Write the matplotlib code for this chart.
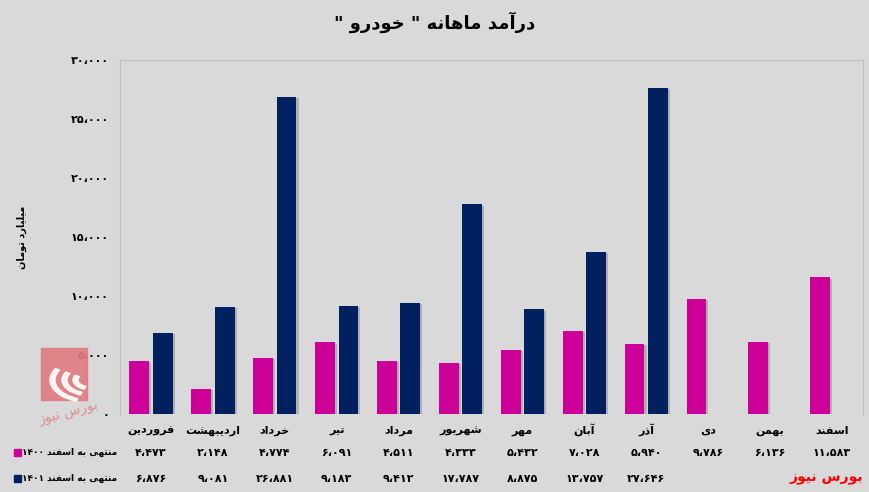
import re
import matplotlib
matplotlib.use('Agg')
import matplotlib.pyplot as plt
import matplotlib.patheffects as pe
from matplotlib.patches import Rectangle, Wedge

# data (billion toman)
months = ['فروردین', 'اردیبهشت', 'خرداد', 'تیر', 'مرداد', 'شهریور',
          'مهر', 'آبان', 'آذر', 'دی', 'بهمن', 'اسفند']
rev_1400 = [4473, 2148, 4774, 6091, 4511, 4333, 5432, 7028, 5940, 9786, 6136, 11583]
rev_1401 = [6876, 9081, 26881, 9183, 9412, 17787, 8875, 13757, 27646, None, None, None]
yticks = [0, 5000, 10000, 15000, 20000, 25000, 30000]
label_1400 = 'منتهی به اسفند ۱۴۰۰'
label_1401 = 'منتهی به اسفند ۱۴۰۱'
title = 'درآمد ماهانه " خودرو "'
ylabel = 'میلیارد تومان'
source = 'بورس نیوز'

c1400 = '#cc0099'
c1401 = '#002060'
bg = '#d9d9d9'

# arabic presentation forms: isolated, final, initial, medial
FORMS = {
    'ا': 'ﺍﺎ', 'آ': 'ﺁﺂ', 'د': 'ﺩﺪ', 'ذ': 'ﺫﺬ', 'ر': 'ﺭﺮ', 'ز': 'ﺯﺰ',
    'و': 'ﻭﻮ', 'ژ': 'ﮊﮋ',
    'ب': 'ﺏﺐﺑﺒ', 'پ': 'ﭖﭗﭘﭙ', 'ت': 'ﺕﺖﺗﺘ', 'خ': 'ﺥﺦﺧﺨ', 'س': 'ﺱﺲﺳﺴ',
    'ش': 'ﺵﺶﺷﺸ', 'ف': 'ﻑﻒﻓﻔ', 'ل': 'ﻝﻞﻟﻠ', 'م': 'ﻡﻢﻣﻤ', 'ن': 'ﻥﻦﻧﻨ',
    'ه': 'ﻩﻪﻫﻬ', 'ی': 'ﯼﯽﯾﯿ', 'ک': 'ﮎﮏﮐﮑ', 'گ': 'ﮒﮓﮔﮕ',
}


def fa(text):
    # shape and reorder persian text for left-to-right drawing
    out = []
    for i, ch in enumerate(text):
        f = FORMS.get(ch)
        if f is None:
            out.append(ch)
            continue
        prev = text[i - 1] if i > 0 else ''
        nxt = text[i + 1] if i + 1 < len(text) else ''
        jp = prev in FORMS and len(FORMS[prev]) == 4
        jn = len(f) == 4 and nxt in FORMS
        if jp and jn:
            out.append(f[3])
        elif jp:
            out.append(f[1])
        elif jn:
            out.append(f[2])
        else:
            out.append(f[0])
    tokens = re.findall(r'[۰-۹0-9،]+|.', ''.join(out))
    return ''.join(tokens[::-1])


def fnum(v):
    s = f'{v:,}'.replace(',', '،')
    return s.translate(str.maketrans('0123456789', '۰۱۲۳۴۵۶۷۸۹'))


plt.rcParams['font.family'] = ['DejaVu Sans']
fig = plt.figure(figsize=(8.69, 4.92), dpi=100, facecolor=bg)
ax = fig.add_axes([120 / 869, 1 - 414 / 492, 743 / 869, 354 / 492], facecolor=bg)

x = list(range(len(months)))
w = 0.32
shadow = [pe.SimplePatchShadow(offset=(1.5, -1), shadow_rgbFace='#888888', alpha=0.5), pe.Normal()]
ax.bar([i - 0.19 for i in x], rev_1400, width=w, color=c1400, path_effects=shadow, zorder=3)
xs = [i + 0.19 for i in x if rev_1401[i] is not None]
vs = [v for v in rev_1401 if v is not None]
ax.bar(xs, vs, width=w, color=c1401, path_effects=shadow, zorder=3)

ax.set_xlim(-0.5, len(months) - 0.5)
ax.set_ylim(0, 30000)
ax.set_yticks(yticks)
ax.set_yticklabels([fnum(v) for v in yticks], fontsize=8, fontweight='bold')
ax.tick_params(axis='y', length=0, pad=8)
ax.set_xticks([])
for s in ['left', 'top', 'right']:
    ax.spines[s].set_color('#bfbfbf')
ax.spines['bottom'].set_visible(False)

# table under the chart
tr = ax.get_xaxis_transform()
for i, m in enumerate(months):
    ax.text(i, -0.055, fa(m), transform=tr, ha='center', va='baseline', fontsize=8, fontweight='bold')
    ax.text(i, -0.11, fnum(rev_1400[i]), transform=tr, ha='center', va='center', fontsize=8, fontweight='bold')
    if rev_1401[i] is not None:
        ax.text(i, -0.185, fnum(rev_1401[i]), transform=tr, ha='center', va='center', fontsize=8, fontweight='bold')

fig.text(117 / 869, 1 - 452 / 492, fa(label_1400), ha='right', va='center', fontsize=6.5, fontweight='bold')
fig.text(117 / 869, 1 - 478 / 492, fa(label_1401), ha='right', va='center', fontsize=6.5, fontweight='bold')
fig.patches.append(Rectangle((14 / 869, 1 - 456 / 492), 7 / 869, 7 / 492, color=c1400, transform=fig.transFigure))
fig.patches.append(Rectangle((14 / 869, 1 - 482 / 492), 7 / 869, 7 / 492, color=c1401, transform=fig.transFigure))

fig.text(0.5, 1 - 22 / 492, fa(title), ha='center', va='center', fontsize=13, fontweight='bold')
fig.text(22 / 869, 1 - 237 / 492, fa(ylabel), rotation=90, ha='center', va='center', fontsize=7, fontweight='bold')
fig.text(863 / 869, 1 - 478 / 492, fa(source), ha='right', va='center', fontsize=10, fontweight='bold', color='#ff0000')

# watermark logo
fig.patches.append(Rectangle((41 / 869, 1 - 400 / 492), 46 / 869, 52 / 492, color='#e07b80', alpha=0.9,
                             transform=fig.transFigure, zorder=0))
for r in [40, 28, 17]:
    fig.patches.append(Wedge((90 / 869, 1 - 380 / 492), r / 869, 150, 250, width=5 / 869,
                             color='white', alpha=0.9, transform=fig.transFigure, zorder=1))
fig.text(68 / 869, 1 - 412 / 492, fa(source), rotation=15, ha='center', va='center', fontsize=10,
         color='#e07b80', alpha=0.8)

fig.savefig('out.png', dpi=100, facecolor=bg)
